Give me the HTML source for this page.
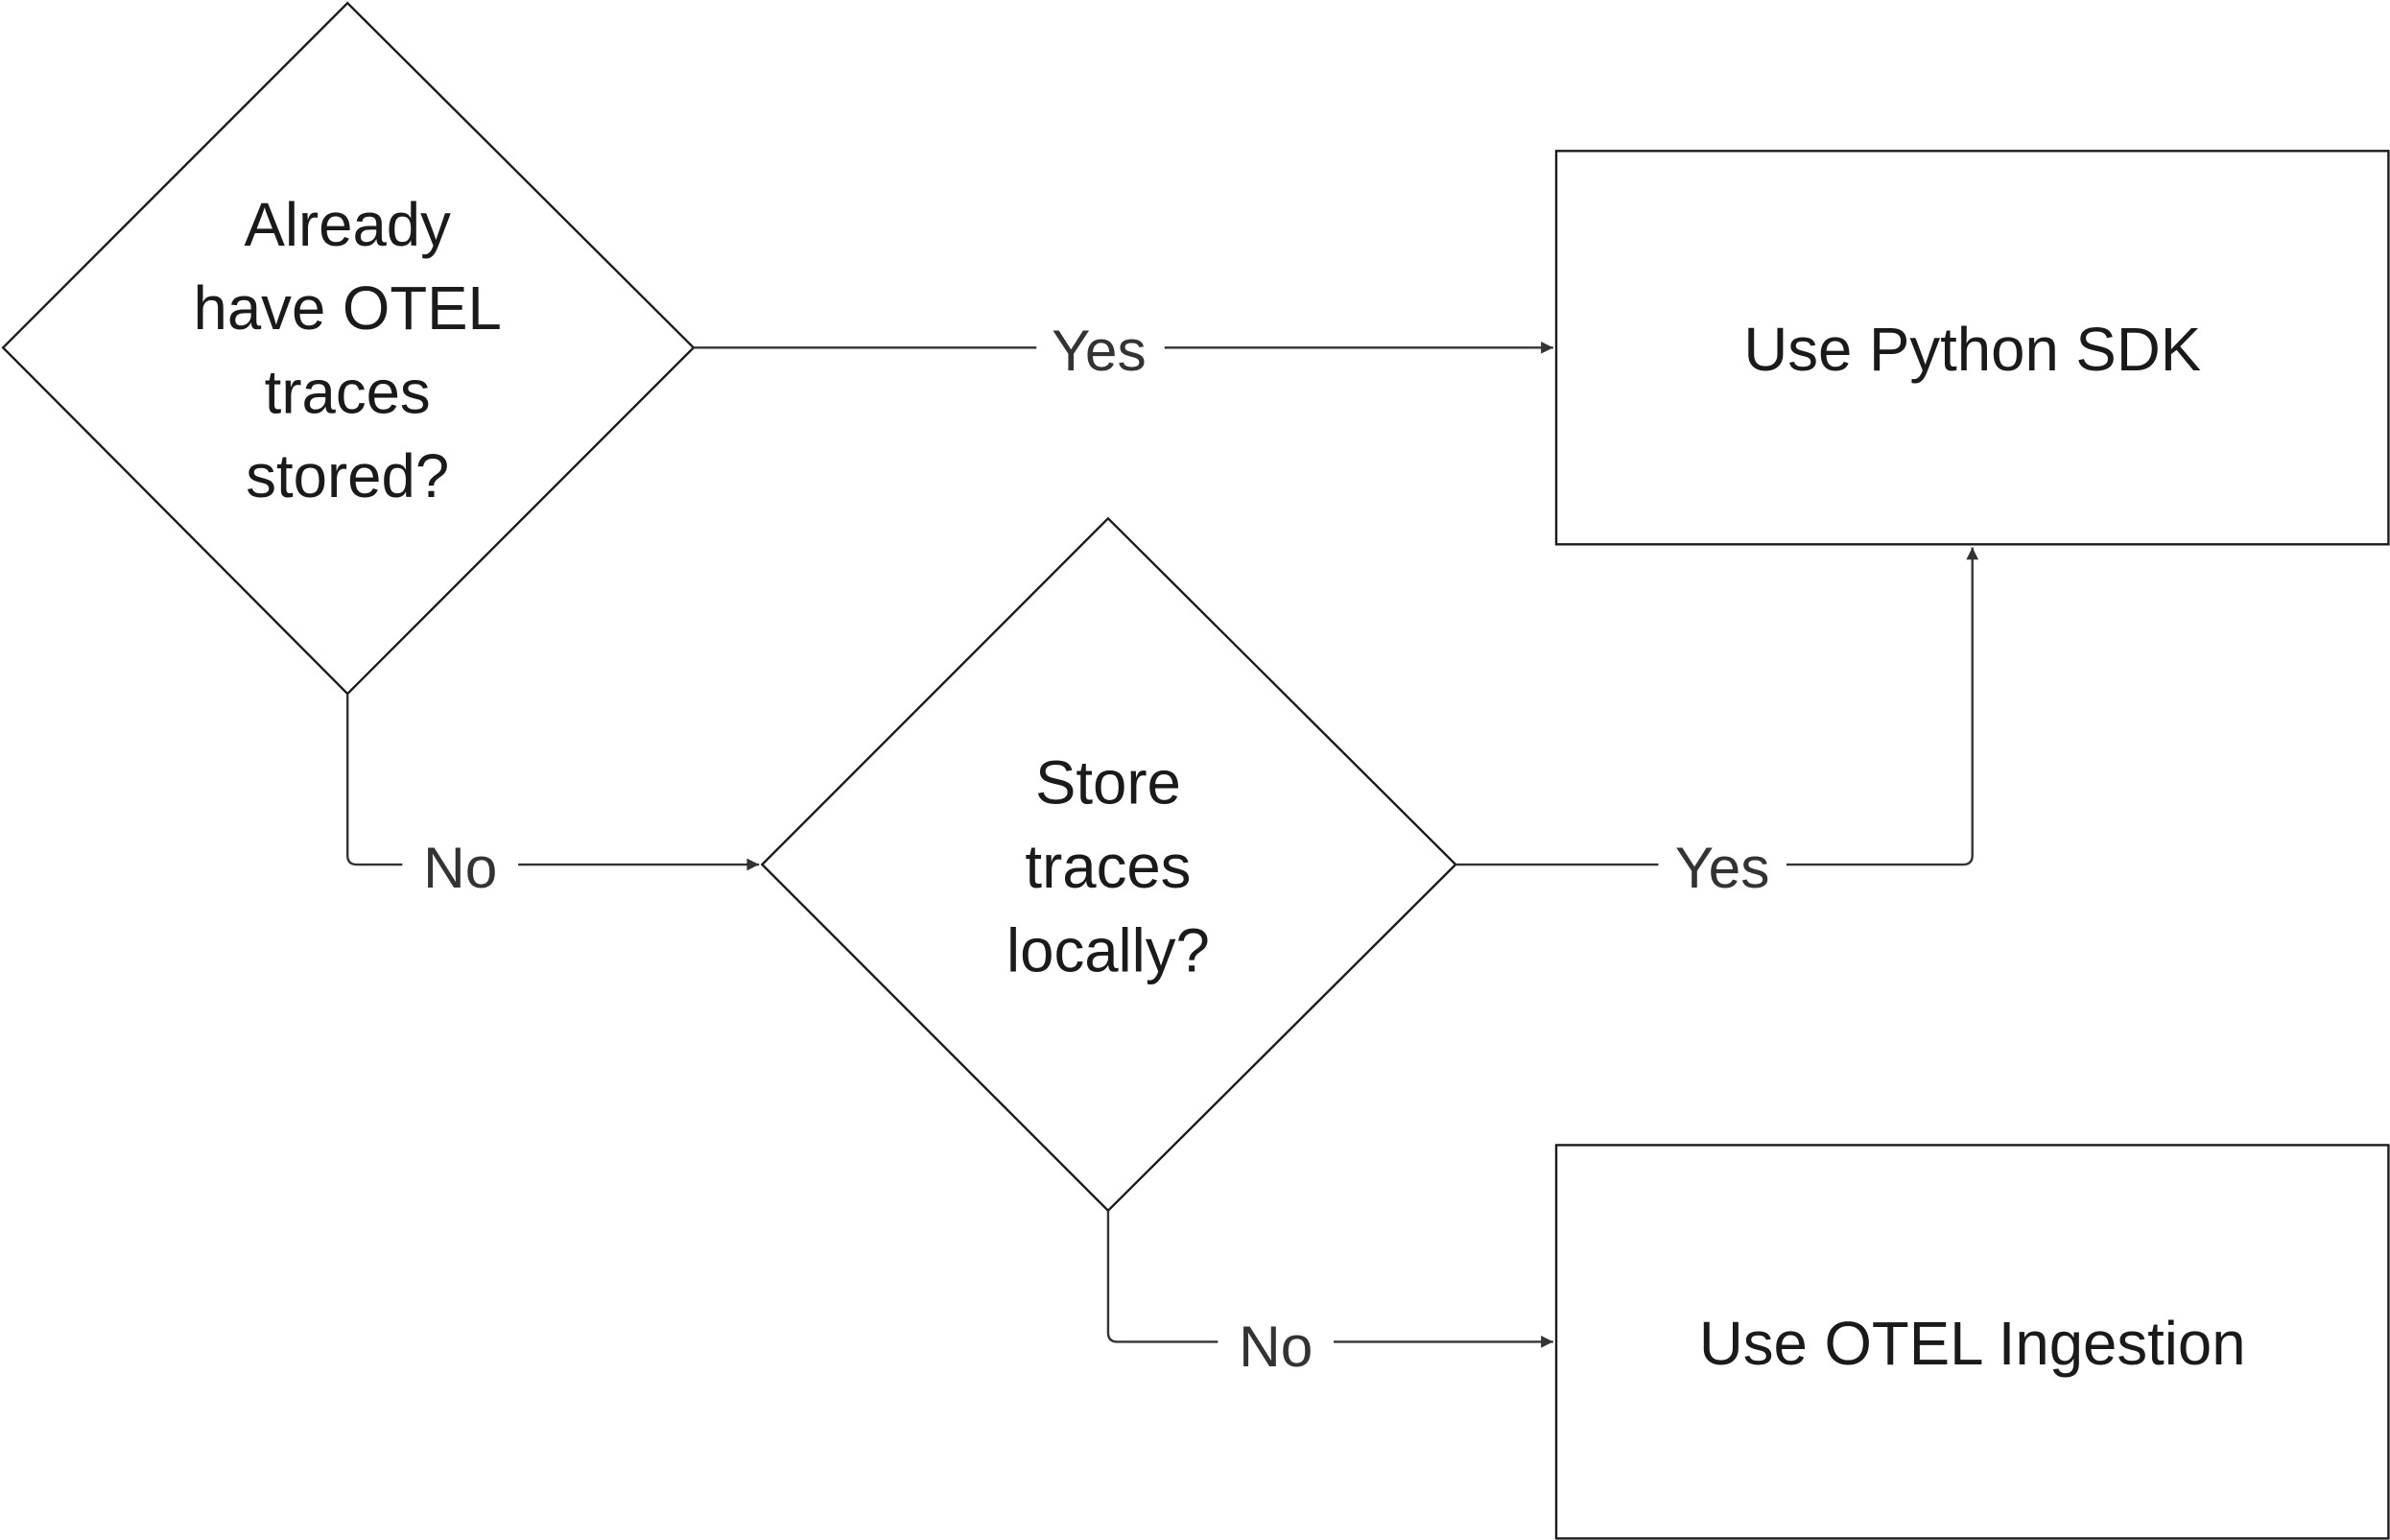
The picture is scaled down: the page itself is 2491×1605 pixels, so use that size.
<!DOCTYPE html>
<html><head><meta charset="utf-8"><style>
html,body{margin:0;padding:0;background:#fff;}
svg{display:block;}
text{font-family:"Liberation Sans","DejaVu Sans",sans-serif;}
</style></head><body>
<svg width="2491" height="1605" viewBox="0 0 1568 1010" preserveAspectRatio="none" xmlns="http://www.w3.org/2000/svg">
<defs><marker id="a" markerWidth="10" markerHeight="10" refX="9" refY="5" orient="auto" markerUnits="userSpaceOnUse"><path d="M1,1 L9,5 L1,9 Z" fill="#333"/></marker></defs>
<g fill="#fff" stroke="#1a1a1a" stroke-width="1.5">
<polygon points="228,2 455,228 228,455 2,228"/>
<polygon points="727,340 955,567 727,794 500,567"/>
<rect x="1021" y="99" width="546" height="258"/>
<rect x="1021" y="751" width="546" height="258"/>
</g>
<g fill="none" stroke="#333" stroke-width="1.5">
<path d="M455,228 H680"/><path d="M764,228 H1019" marker-end="url(#a)"/>
<path d="M228,455 V561 Q228,567 234,567 H264"/><path d="M340,567 H498" marker-end="url(#a)"/>
<path d="M955,567 H1088"/><path d="M1172,567 H1288 Q1294,567 1294,561 V359" marker-end="url(#a)"/>
<path d="M727,794 V874 Q727,880 733,880 H799"/><path d="M875,880 H1019" marker-end="url(#a)"/>
</g>
<g fill="#1a1a1a" font-size="40" text-anchor="middle">
<text x="228" y="161">Already</text>
<text x="228" y="216">have OTEL</text>
<text x="228" y="271">traces</text>
<text x="228" y="326">stored?</text>
<text x="727" y="527">Store</text>
<text x="727" y="582">traces</text>
<text x="727" y="637">locally?</text>
<text x="1294" y="243">Use Python SDK</text>
<text x="1294" y="895">Use OTEL Ingestion</text>
</g>
<g fill="#333" font-size="38" text-anchor="middle">
<text x="721" y="243">Yes</text>
<text x="302" y="582">No</text>
<text x="1130" y="582">Yes</text>
<text x="837" y="896">No</text>
</g>
</svg>
</body></html>
